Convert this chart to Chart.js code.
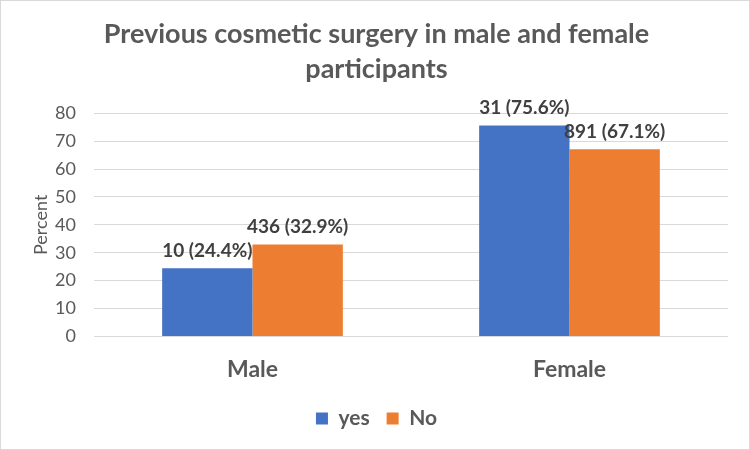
<!DOCTYPE html>
<html>
<head>
<meta charset="utf-8">
<script src="https://cdn.jsdelivr.net/npm/chart.js@4"></script>
<style>
html,body{margin:0;padding:0;background:#fff;}
#wrap{position:relative;width:748px;height:448px;border:1px solid #d9d9d9;}
</style>
</head>
<body>
<div id="wrap"><canvas id="c" width="748" height="448"></canvas></div>
<script>
const categories = ["Male", "Female"];
const yesValues = [24.4, 75.6];
const noValues = [32.9, 67.1];
const yesLabels = ["10 (24.4%)", "31 (75.6%)"];
const noLabels = ["436 (32.9%)", "891 (67.1%)"];
const seriesNames = ["yes", "No"];
const titleLines = ["Previous cosmetic surgery in male and female", "participants"];

const FONT = "Lato, 'Open Sans', sans-serif";

const barLabels = {
  id: 'barLabels',
  afterDatasetsDraw(chart) {
    const ctx = chart.ctx;
    const labelSets = [yesLabels, noLabels];
    ctx.save();
    ctx.font = "bold 19px " + FONT;
    ctx.fillStyle = "#404040";
    ctx.textAlign = "center";
    ctx.textBaseline = "bottom";
    chart.data.datasets.forEach((ds, i) => {
      const meta = chart.getDatasetMeta(i);
      meta.data.forEach((bar, j) => {
        ctx.fillText(labelSets[i][j], bar.x, bar.y - 8);
      });
    });
    ctx.restore();
  }
};

new Chart(document.getElementById('c'), {
  type: 'bar',
  data: {
    labels: categories,
    datasets: [
      { label: seriesNames[0], data: yesValues, backgroundColor: '#4472C4', categoryPercentage: 0.57, barPercentage: 1.0 },
      { label: seriesNames[1], data: noValues, backgroundColor: '#ED7D31', categoryPercentage: 0.57, barPercentage: 1.0 }
    ]
  },
  options: {
    responsive: false,
    animation: false,
    layout: { padding: { left: 24, right: 21, top: 0, bottom: 10 } },
    plugins: {
      title: {
        display: true,
        text: titleLines,
        color: '#595959',
        font: { family: FONT, size: 27, weight: 'bold', lineHeight: 1.3 },
        padding: { top: 16, bottom: 26 }
      },
      legend: {
        position: 'bottom',
        labels: {
          color: '#595959',
          font: { family: FONT, size: 21, weight: 'bold' },
          boxWidth: 12, boxHeight: 12, padding: 17
        }
      },
      tooltip: { enabled: false }
    },
    scales: {
      x: {
        afterFit(scale) { scale.height = scale.height - 3; },
        grid: { display: false },
        border: { display: false },
        ticks: { color: '#595959', font: { family: FONT, size: 23, weight: 'bold' }, padding: 11 }
      },
      y: {
        min: 0, max: 80,
        afterFit(scale) { scale.width = 69; },
        ticks: { stepSize: 10, color: '#595959', font: { family: FONT, size: 18 }, padding: 18 },
        grid: { color: '#d9d9d9', drawTicks: false },
        border: { display: false },
        title: { display: true, text: 'Percent', color: '#595959', font: { family: FONT, size: 18 }, padding: { top: 5, bottom: 0 } }
      }
    }
  },
  plugins: [barLabels]
});
</script>
</body>
</html>
